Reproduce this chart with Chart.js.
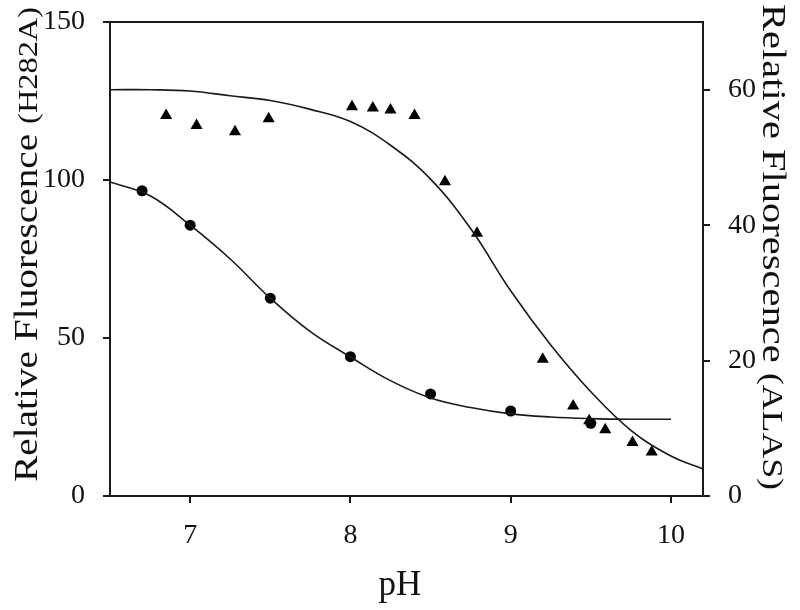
<!DOCTYPE html>
<html>
<head>
<meta charset="utf-8">
<script src="https://cdn.jsdelivr.net/npm/chart.js@4.4.1/dist/chart.umd.min.js"></script>
<style>
html,body{margin:0;padding:0;background:#fff;}
canvas{display:block;}
</style>
</head>
<body>
<canvas id="c" width="800" height="610"></canvas>
<script>
// ---- data ----
const circlePH = [6.7, 7.0, 7.5, 8.0, 8.5, 9.0, 9.5];
const circleF  = [96.6, 85.7, 62.6, 44.1, 32.3, 26.9, 23.0];           // left axis (H282A)

const trianglePH = [6.85, 7.04, 7.28, 7.49, 8.01, 8.14, 8.25, 8.40, 8.59, 8.79, 9.20, 9.39, 9.49, 9.59, 9.76, 9.88];
const triangleF  = [56.2, 54.7, 53.8, 55.7, 57.5, 57.3, 57.0, 56.2, 46.4, 38.8, 20.2, 13.3, 11.1, 9.8, 7.9, 6.5]; // right axis (ALAS)

const fitPH1 = [6.5, 6.75, 7.0, 7.25, 7.5, 7.75, 8.0, 8.25, 8.5, 8.75, 9.0, 9.25, 9.5, 9.75, 10.0];
const fitF1  = [99.4, 95.0, 85.7, 75.0, 62.6, 52.0, 44.0, 36.5, 31.0, 28.0, 26.0, 25.0, 24.5, 24.3, 24.3];

const fitPH2 = [6.5, 6.75, 7.0, 7.25, 7.5, 7.75, 8.0, 8.25, 8.5, 8.75, 9.0, 9.25, 9.5, 9.75, 10.0, 10.2];
const fitF2  = [60.0, 60.0, 59.8, 59.1, 58.4, 57.1, 55.3, 51.8, 46.8, 39.5, 30.3, 22.3, 15.4, 9.7, 5.9, 4.0];

const xTicks  = [7, 8, 9, 10];
const yTicks  = [0, 50, 100, 150];
const y2Ticks = [0, 20, 40, 60];

const xTitle = 'pH';
const yTitle = ['Relative Fluorescence ', '(H282A)'];
const y2Title = ['Relative Fluorescence ', '(ALAS)'];

// ---- styling ----
const SERIF = '"Liberation Serif", "Times New Roman", serif';
const INK = '#111';
const LINE = '#1a1a1a';
const pts = (xs, ys) => xs.map((x, i) => ({x: x, y: ys[i]}));

const tickFont = {family: SERIF, size: 28};

function zeroPad(s) { s.paddingTop = 0; s.paddingBottom = 0; s.paddingLeft = 0; s.paddingRight = 0; }

function axisCommon(ticksArr, pad) {
  return {
    afterBuildTicks: s => { s.ticks = ticksArr.map(v => ({value: v})); },
    grid: {display: true, drawOnChartArea: false, drawTicks: true, tickLength: 7, color: LINE, lineWidth: 2},
    border: {display: true, color: LINE, width: 2},
    ticks: {font: tickFont, color: INK, padding: pad, autoSkip: false, maxRotation: 0, minRotation: 0}
  };
}

const decor = {
  id: 'decor',
  afterDraw(chart) {
    const ctx = chart.ctx;
    const a = chart.chartArea;
    ctx.save();
    // top frame line
    ctx.strokeStyle = LINE;
    ctx.lineWidth = 2;
    ctx.beginPath();
    ctx.moveTo(a.left, a.top);
    ctx.lineTo(a.right, a.top);
    ctx.stroke();

    ctx.fillStyle = INK;
    ctx.textAlign = 'left';
    ctx.textBaseline = 'alphabetic';

    function drawParts(parts, sizes, target) {
      let w = 0;
      const widths = parts.map((p, i) => { ctx.font = sizes[i] + 'px ' + SERIF; const m = ctx.measureText(p).width; w += m; return m; });
      const s = target / w;
      ctx.scale(s, 1);
      let x = 0;
      parts.forEach((p, i) => { ctx.font = sizes[i] + 'px ' + SERIF; ctx.fillText(p, x, 0); x += widths[i]; });
    }

    // left title (reads bottom to top)
    ctx.save();
    ctx.translate(37, 482);
    ctx.rotate(-Math.PI / 2);
    drawParts(yTitle, [34, 28], 475);
    ctx.restore();

    // right title (reads top to bottom)
    ctx.save();
    ctx.translate(763, 4);
    ctx.rotate(Math.PI / 2);
    drawParts(y2Title, [34, 30], 486);
    ctx.restore();

    // x title
    ctx.font = '35px ' + SERIF;
    ctx.textAlign = 'center';
    ctx.fillText(xTitle, 400, 595);
    ctx.restore();
  }
};

new Chart(document.getElementById('c'), {
  type: 'scatter',
  data: {
    datasets: [
      {data: pts(fitPH1, fitF1), yAxisID: 'y', showLine: true, pointRadius: 0, borderColor: LINE, borderWidth: 1.6, tension: 0.4, fill: false},
      {data: pts(fitPH2, fitF2), yAxisID: 'y2', showLine: true, pointRadius: 0, borderColor: LINE, borderWidth: 1.6, tension: 0.4, fill: false},
      {data: pts(circlePH, circleF), yAxisID: 'y', showLine: false, pointStyle: 'circle', pointRadius: 5.5, backgroundColor: '#000', borderColor: '#000', borderWidth: 0},
      {data: pts(trianglePH, triangleF), yAxisID: 'y2', showLine: false, pointStyle: 'triangle', pointRadius: 7, backgroundColor: '#000', borderColor: '#000', borderWidth: 0}
    ]
  },
  options: {
    responsive: false,
    animation: false,
    layout: {padding: {top: 22, left: 0, right: 0, bottom: 0}},
    plugins: {legend: {display: false}, tooltip: {enabled: false}},
    scales: {
      x: Object.assign(axisCommon(xTicks, 16), {type: 'linear', min: 6.5, max: 10.2, position: 'bottom',
        afterFit: s => { s.height = 114; zeroPad(s); }}),
      y: Object.assign(axisCommon(yTicks, 18), {type: 'linear', min: 0, max: 150, position: 'left',
        afterFit: s => { s.width = 110; zeroPad(s); }}),
      y2: Object.assign(axisCommon(y2Ticks, 18), {type: 'linear', min: 0, max: 70, position: 'right',
        afterFit: s => { s.width = 97; zeroPad(s); }})
    }
  },
  plugins: [decor]
});
</script>
</body>
</html>
